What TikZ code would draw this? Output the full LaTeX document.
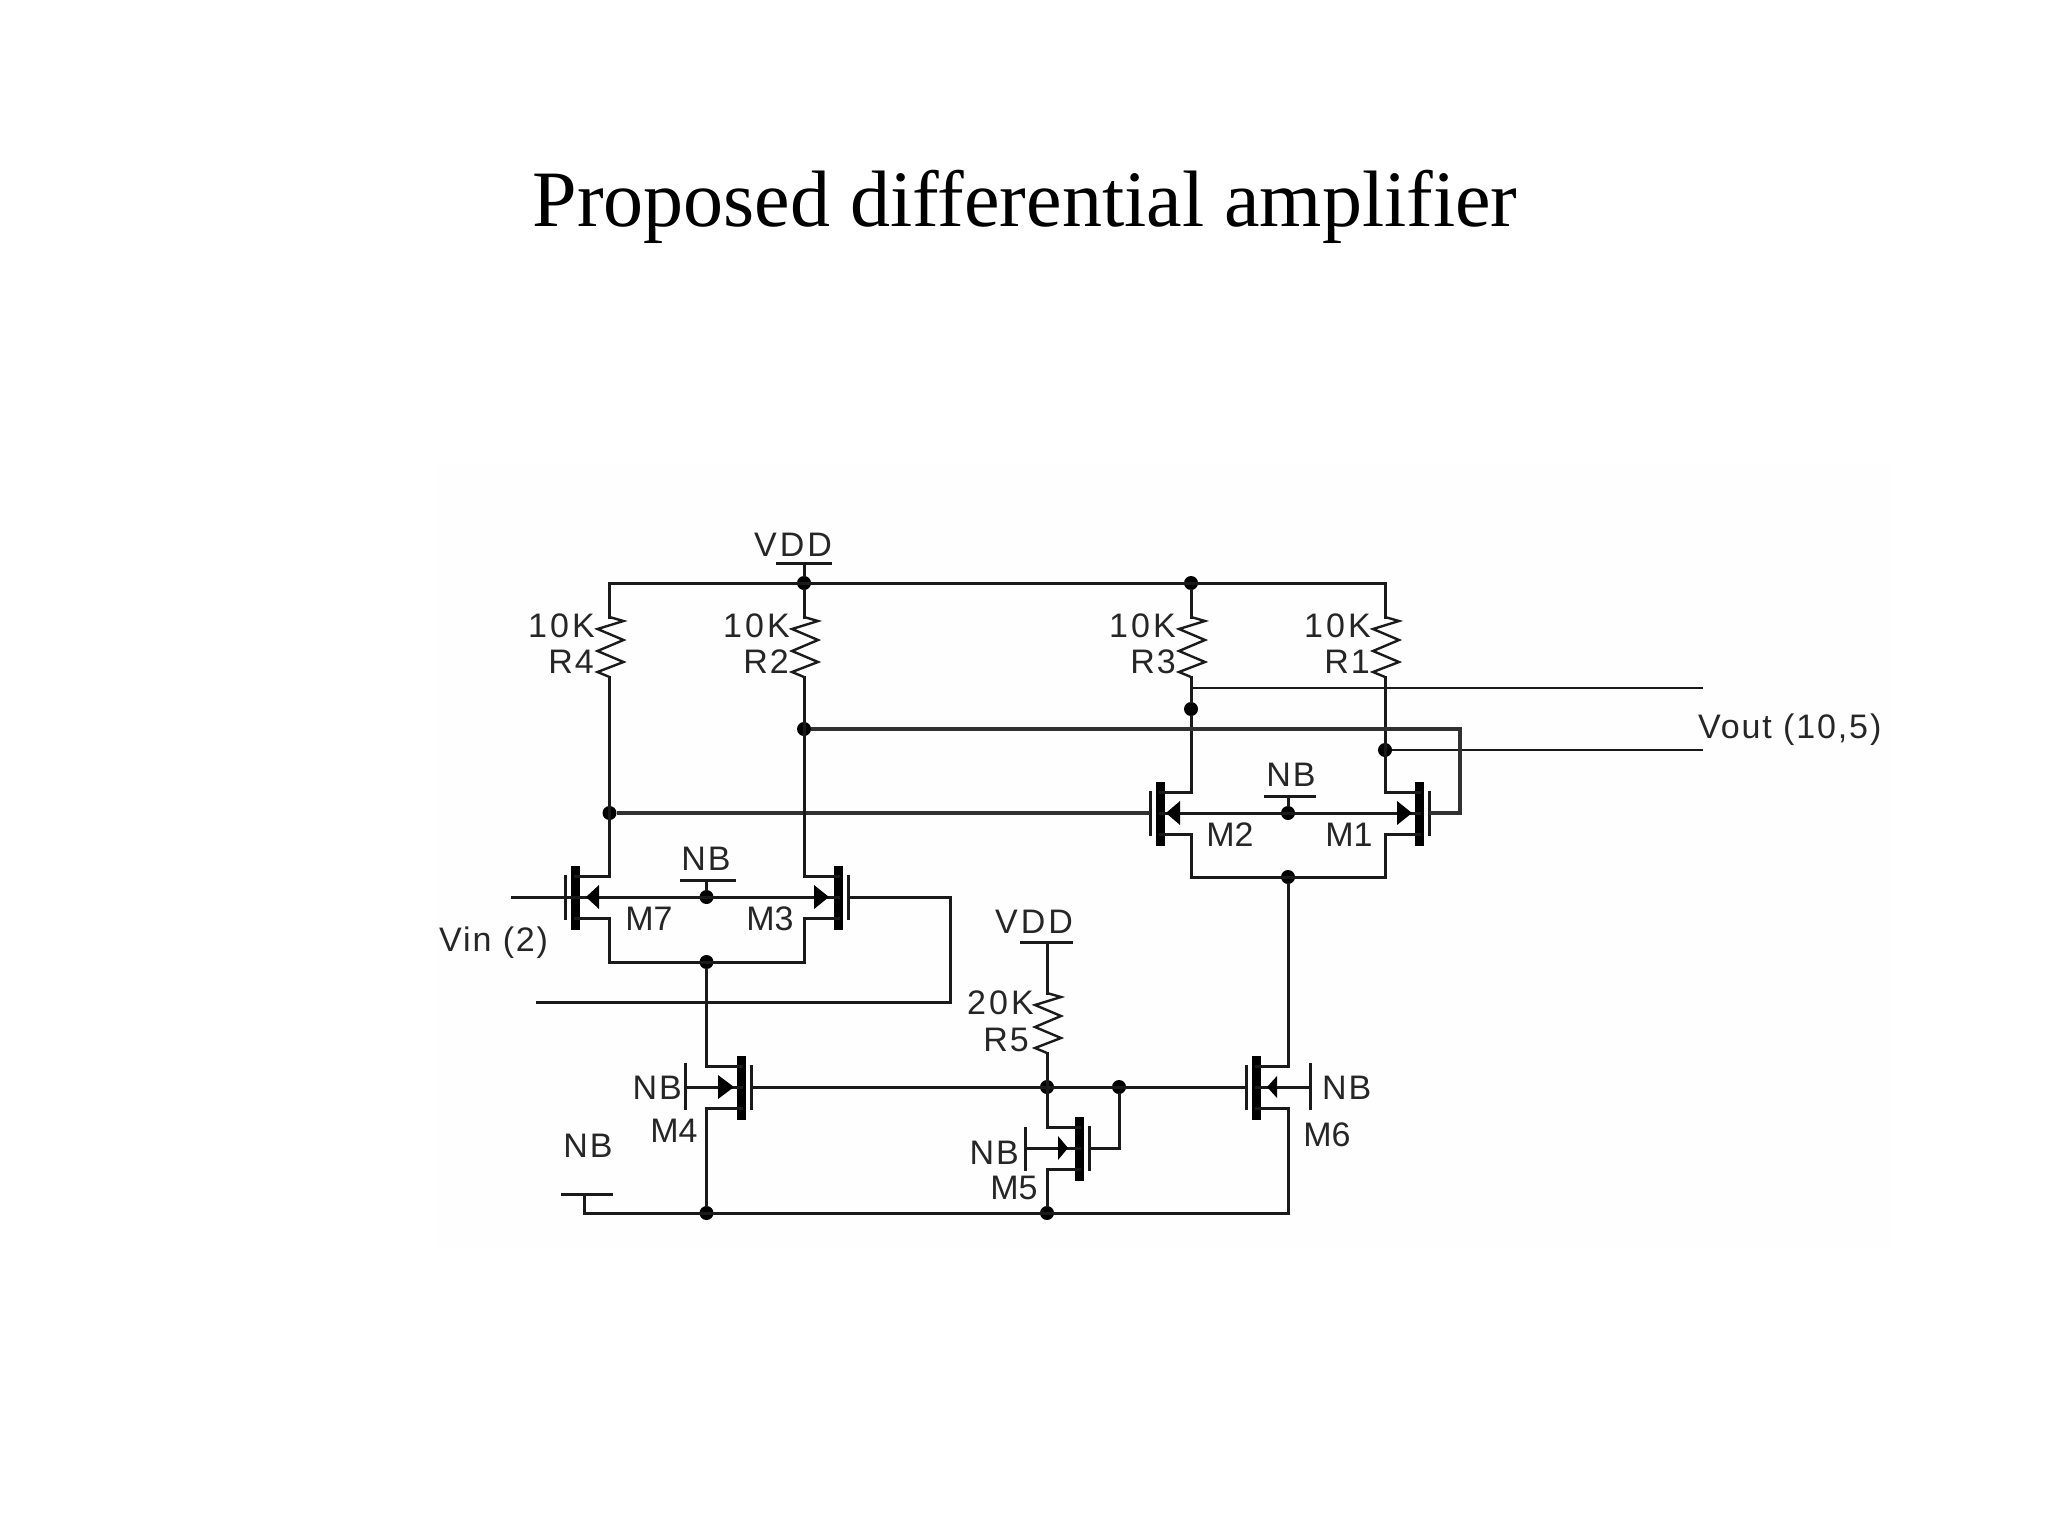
\documentclass[tikz,border=0pt]{standalone}
\usepackage{fontspec}
\setmainfont{Liberation Serif}
\newfontfamily\labwide[LetterSpace=9]{Liberation Sans}
\newfontfamily\labmid[LetterSpace=5.5]{Liberation Sans}
\newfontfamily\labtight{Liberation Sans}
\definecolor{ink}{HTML}{1A1A1A}
\definecolor{txt}{HTML}{262626}
\tikzset{
  wire/.style={draw=ink,line width=3pt,line cap=rect,line join=miter},
  heavy/.style={draw=ink!90,line width=3.2pt,line join=miter},
  junction/.style={circle,fill=black,inner sep=0pt,minimum size=14pt},
  labw/.style={text=txt,inner sep=0pt,font=\labwide\fontsize{34}{34}\selectfont},
  labm/.style={text=txt,inner sep=0pt,font=\labmid\fontsize{34}{34}\selectfont},
  labt/.style={text=txt,inner sep=0pt,font=\labtight\fontsize{34}{34}\selectfont},
  ttl/.style={text=black,inner sep=0pt,font=\fontsize{80}{80}\selectfont}
}
% name, channel x, centre y, side of the gate (+1 right, -1 left)
\newcommand{\mosdev}[4]{%
  \fill[black] (#2-4.5,#3-31.5) rectangle (#2+4.5,#3+33);
  \coordinate (#1c) at (#2,#3);
  \coordinate (#1g) at ({#2+#4*10},#3);
  \coordinate (#1d) at (#2,#3-20.5);
  \coordinate (#1s) at (#2,#3+21.5);
  \draw[wire,line cap=butt] ({#2+#4*10},#3-22) -- ({#2+#4*10},#3+23);
}
% tip x, base x, y
\newcommand{\bodytip}[3]{\fill[black] (#1,#3) -- (#2,#3-12) -- (#2,#3+12) -- cycle;}
% name, x, top y
\newcommand{\zigres}[3]{%
  \coordinate (#1t) at (#2,#3);
  \coordinate (#1b) at (#2,#3+60);
  \draw[draw=ink,line width=2.4pt,line join=miter] (#1t) -- ++(14,4) -- ++(-26,8) -- ++(26,11) -- ++(-26,11)
     -- ++(26,11) -- ++(-26,10) -- (#1b);
}
\begin{document}
\begin{tikzpicture}[x=1pt,y=-1pt]
\useasboundingbox (0,0) rectangle (2048,1536);
\fill[white] (0,0) rectangle (2048,1536);
\fill[black!0.5] (435,464) rectangle (1890,1247);

\node[ttl] (title) at (1025,207) {Proposed differential amplifier};

% devices
\mosdev{mtwo}{1160}{813}{-1}
\mosdev{mone}{1419}{813}{1}
\mosdev{mseven}{575}{897}{-1}
\mosdev{mthree}{838}{897}{1}
\mosdev{mfour}{741}{1087}{1}
\mosdev{mfive}{1079}{1148}{1}
\mosdev{msix}{1256}{1087}{-1}

\zigres{rfour}{609.5}{617}
\zigres{rtwo}{804}{617}
\zigres{rthree}{1191}{617}
\zigres{rone}{1385}{617}
\zigres{rfive}{1047}{993}

% named points
\coordinate (vddbl) at (777,563); \coordinate (vddbr) at (830,563); \coordinate (vddb) at (804,563);
\node[junction] (jvdd) at (804,583) {};
\node[junction] (jrthree) at (1191,583) {};
\coordinate (railL) at (609.5,583); \coordinate (railR) at (1385,583);
\node[junction] (jrtwo) at (804,729) {};
\node[junction] (jrfour) at (609.5,813) {};
\node[junction] (jrthreed) at (1191,709) {};
\node[junction] (jrone) at (1385,750) {};
\node[junction] (jnbtop) at (1288,813) {};
\node[junction] (jnbmid) at (706.5,897) {};
\node[junction] (jtail) at (1288,877) {};
\node[junction] (jtailb) at (706.5,962) {};
\node[junction] (jgate) at (1047,1087) {};
\node[junction] (jgatetwo) at (1119,1087) {};
\node[junction] (jgnda) at (706.5,1213) {};
\node[junction] (jgndb) at (1047,1213) {};
\coordinate (voutT) at (1703,688); \coordinate (voutTs) at (1191,688);
\coordinate (voutB) at (1703,750);
\coordinate (fbA) at (1460,729); \coordinate (fbB) at (1460,813);
\coordinate (vinIn) at (512,897);
\coordinate (xA) at (950,897); \coordinate (xB) at (950,1002); \coordinate (xC) at (537,1002);
\coordinate (gndL) at (584,1213); \coordinate (gndT) at (584,1194);
\coordinate (gndbl) at (562,1194); \coordinate (gndbr) at (611,1194);
\coordinate (gndR) at (1288,1213);

% supply rail and resistors
\draw[wire] (vddbl) -- (vddbr);
\draw[wire] (vddb) -- (jvdd);
\draw[wire] (rfourt) |- (railL) -- (railR) -- (ronet);
\draw[wire] (jvdd) -- (rtwot);
\draw[wire] (jrthree) -- (rthreet);

% upper pair M2 / M1
\draw[wire] (rthreeb) -- (jrthreed) -- (1191,792.5) -- (mtwod);
\draw[wire] (mtwos) -- (1191,834.5) -- (1191,877) -- (1385,877) -- (1385,834.5) -- (mones);
\draw[wire] (moned) -- (1385,792.5) -- (roneb);
\draw[wire] (mtwoc) -- (monec);
\draw[wire] (jnbtop) -- (1288,796);
\draw[wire] (1265,796) -- (1314,796);
\draw[draw=ink,line width=2.6pt] (voutTs) -- (voutT);
\draw[draw=ink,line width=2.6pt] (jrone) -- (voutB);
\draw[heavy] (jrtwo) -- (fbA) -- (fbB) -- (moneg);
\draw[heavy] (jrfour) -- (mtwog);
\bodytip{1166}{1180}{813}
\bodytip{1412}{1397}{813}

% lower pair M7 / M3
\draw[wire] (rfourb) -- (609.5,876.5) -- (msevend);
\draw[wire] (rtwob) -- (804,876.5) -- (mthreed);
\draw[wire] (msevens) -- (609.5,918.5) -- (609.5,962) -- (804,962) -- (804,918.5) -- (mthrees);
\draw[wire] (msevenc) -- (mthreec);
\draw[wire] (jnbmid) -- (706.5,880);
\draw[wire] (681,880) -- (734,880);
\draw[wire] (vinIn) -- (msevenc);
\bodytip{586}{599}{897}
\bodytip{829}{814}{897}
\draw[wire] (mthreeg) -- (xA) -- (xB) -- (xC);

% M4
\draw[wire] (jtailb) -- (706.5,1066.5) -- (mfourd);
\draw[wire] (mfours) -- (706.5,1108.5) -- (jgnda);
\draw[wire] (mfourg) -- (msixg);
\draw[wire] (685,1087) -- (mfourc);
\draw[wire,line cap=butt] (685,1063) -- (685,1110);
\bodytip{734}{718}{1087}

% M5 and R5
\draw[wire] (1021,942) -- (1071,942);
\draw[wire] (1047,942) -- (rfivet);
\draw[wire] (rfiveb) -- (1047,1127.5) -- (mfived);
\draw[wire] (mfives) -- (1047,1169.5) -- (jgndb);
\draw[wire] (mfiveg) -- (1119,1148) -- (jgatetwo);
\draw[wire] (1025,1148) -- (mfivec);
\draw[wire,line cap=butt] (1025,1127) -- (1025,1171);
\bodytip{1068}{1058}{1148}

% M6
\draw[wire] (jtail) -- (1288,1066.5) -- (msixd);
\draw[wire] (msixs) -- (1288,1108.5) -- (gndR);
\draw[wire] (1310,1087) -- (msixc);
\draw[wire,line cap=butt] (1310,1063) -- (1310,1110);
\fill[black] (1267,1087) -- (1277,1076) -- (1277,1098) -- cycle;

% ground rail
\draw[wire] (gndbl) -- (gndbr);
\draw[wire] (gndT) -- (gndL) -- (gndR);

% labels
\node[labw] (tvdd) at (793,545) {VDD};
\node[labw,anchor=east] (tr4v) at (595,626) {10K};
\node[labm,anchor=east] (tr4) at (594,662) {R4};
\node[labw,anchor=east] (tr2v) at (790,626) {10K};
\node[labm,anchor=east] (tr2) at (789,662) {R2};
\node[labw,anchor=east] (tr3v) at (1176,626) {10K};
\node[labm,anchor=east] (tr3) at (1176,662) {R3};
\node[labw,anchor=east] (tr1v) at (1371,626) {10K};
\node[labm,anchor=east] (tr1) at (1370,662) {R1};
\node[labm,anchor=west] (tvout) at (1698,730) {Vout (10,5)};
\node[labm] (tnbtop) at (1291,775) {NB};
\node[labt] (tm2) at (1230,835) {M2};
\node[labt] (tm1) at (1349,835) {M1};
\node[labm] (tnbmid) at (706,859) {NB};
\node[labt] (tm7) at (649,919) {M7};
\node[labt] (tm3) at (770,919) {M3};
\node[labm,anchor=west] (tvin) at (439,943) {Vin (2)};
\node[labm,anchor=east] (tnbfour) at (682,1088) {NB};
\node[labt] (tm4) at (674,1131) {M4};
\node[labm] (tnbgnd) at (588,1146) {NB};
\node[labw] (tvddtwo) at (1034,922) {VDD};
\node[labw,anchor=east] (t20k) at (1034,1003) {20K};
\node[labm,anchor=east] (tr5) at (1029,1040) {R5};
\node[labm,anchor=east] (tnbfive) at (1019,1153) {NB};
\node[labt] (tm5) at (1014,1188) {M5};
\node[labm,anchor=west] (tnbsix) at (1322,1088) {NB};
\node[labt] (tm6) at (1327,1135) {M6};
\end{tikzpicture}
\end{document}
